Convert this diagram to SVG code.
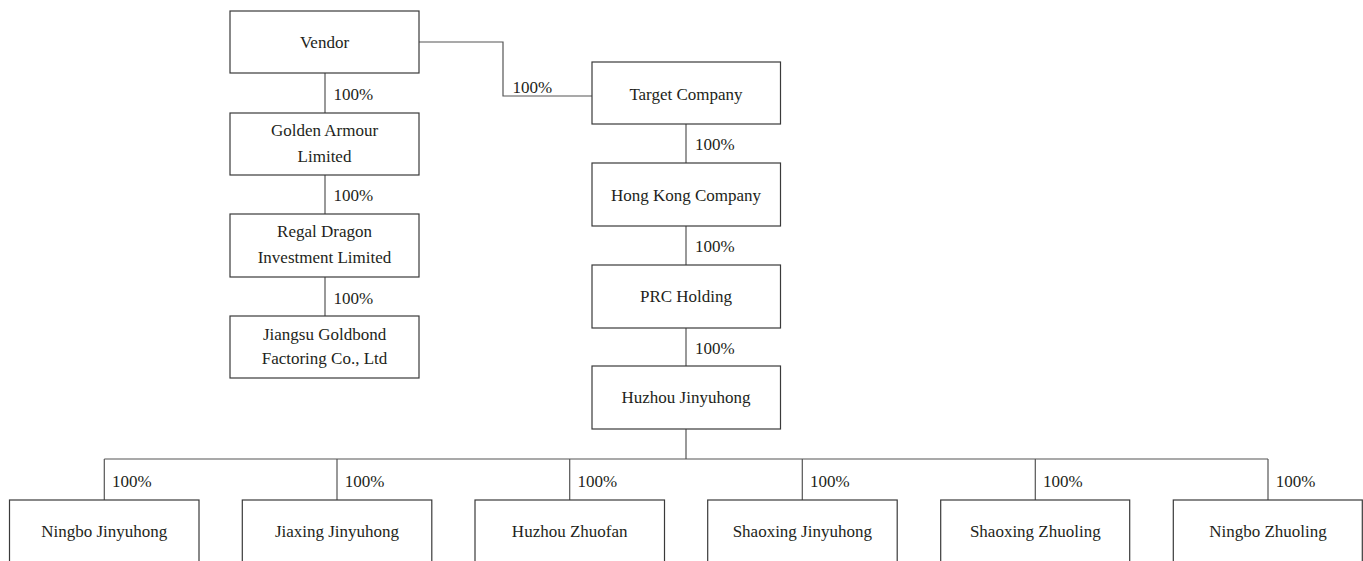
<svg xmlns="http://www.w3.org/2000/svg" width="1363" height="561" viewBox="0 0 1363 561">
<style>
.box{fill:#fff;stroke:#3a3a3a;stroke-width:1.2}
.ln{fill:none;stroke:#555;stroke-width:1.2}
text{font-family:"Liberation Serif","Times New Roman",serif;font-size:17px;fill:#231f20}
.c{text-anchor:middle}
</style>
<rect width="1363" height="561" fill="#fff"/>
<g id="connectors">
<polyline class="ln" points="419,42 503,42 503,96 592,96"/>
<line class="ln" x1="325" y1="73" x2="325" y2="113"/>
<line class="ln" x1="325" y1="175" x2="325" y2="214"/>
<line class="ln" x1="325" y1="277" x2="325" y2="316"/>
<line class="ln" x1="686" y1="124" x2="686" y2="163"/>
<line class="ln" x1="686" y1="226" x2="686" y2="265"/>
<line class="ln" x1="686" y1="328" x2="686" y2="366"/>
<line class="ln" x1="686" y1="429" x2="686" y2="459"/>
<line class="ln" x1="104.3" y1="459" x2="1268" y2="459"/>
<line class="ln" x1="104.3" y1="459" x2="104.3" y2="500"/>
<line class="ln" x1="337" y1="459" x2="337" y2="500"/>
<line class="ln" x1="569.7" y1="459" x2="569.7" y2="500"/>
<line class="ln" x1="802.3" y1="459" x2="802.3" y2="500"/>
<line class="ln" x1="1035.3" y1="459" x2="1035.3" y2="500"/>
<line class="ln" x1="1268" y1="459" x2="1268" y2="500"/>
<text x="512.5" y="93">100%</text>
<text x="333.5" y="99.5">100%</text>
<text x="333.5" y="201">100%</text>
<text x="333.5" y="304">100%</text>
<text x="695" y="150">100%</text>
<text x="695" y="252">100%</text>
<text x="695" y="354">100%</text>
<text x="112" y="486.5">100%</text>
<text x="344.7" y="486.5">100%</text>
<text x="577.4" y="486.5">100%</text>
<text x="810" y="486.5">100%</text>
<text x="1043" y="486.5">100%</text>
<text x="1275.7" y="486.5">100%</text>
</g>
<g id="vendor"><rect class="box" x="230" y="11" width="189" height="62"/><text class="c" x="324.5" y="48">Vendor</text></g>
<g id="golden-armour"><rect class="box" x="230" y="113" width="189" height="62"/><text class="c" x="324.5" y="136">Golden Armour</text><text class="c" x="324.5" y="162">Limited</text></g>
<g id="regal-dragon"><rect class="box" x="230" y="214" width="189" height="63"/><text class="c" x="324.5" y="237">Regal Dragon</text><text class="c" x="324.5" y="263">Investment Limited</text></g>
<g id="jiangsu-goldbond"><rect class="box" x="230" y="316" width="189" height="62"/><text class="c" x="324.5" y="339.5">Jiangsu Goldbond</text><text class="c" x="324.5" y="363.5">Factoring Co., Ltd</text></g>
<g id="target-company"><rect class="box" x="592" y="62" width="188.5" height="62"/><text class="c" x="686" y="99.5">Target Company</text></g>
<g id="hong-kong-company"><rect class="box" x="592" y="163" width="188.5" height="63"/><text class="c" x="686" y="200.5">Hong Kong Company</text></g>
<g id="prc-holding"><rect class="box" x="592" y="265" width="188.5" height="63"/><text class="c" x="686" y="302">PRC Holding</text></g>
<g id="huzhou-jinyuhong"><rect class="box" x="592" y="366" width="188.5" height="63"/><text class="c" x="686" y="403">Huzhou Jinyuhong</text></g>
<g id="ningbo-jinyuhong"><rect class="box" x="9.5" y="500" width="189.5" height="66"/><text class="c" x="104.3" y="536.5">Ningbo Jinyuhong</text></g>
<g id="jiaxing-jinyuhong"><rect class="box" x="242.3" y="500" width="189.5" height="66"/><text class="c" x="337" y="536.5">Jiaxing Jinyuhong</text></g>
<g id="huzhou-zhuofan"><rect class="box" x="475" y="500" width="189.5" height="66"/><text class="c" x="569.7" y="536.5">Huzhou Zhuofan</text></g>
<g id="shaoxing-jinyuhong"><rect class="box" x="707.7" y="500" width="189.5" height="66"/><text class="c" x="802.3" y="536.5">Shaoxing Jinyuhong</text></g>
<g id="shaoxing-zhuoling"><rect class="box" x="940.7" y="500" width="189" height="66"/><text class="c" x="1035.3" y="536.5">Shaoxing Zhuoling</text></g>
<g id="ningbo-zhuoling"><rect class="box" x="1173.3" y="500" width="189" height="66"/><text class="c" x="1268" y="536.5">Ningbo Zhuoling</text></g>
</svg>
